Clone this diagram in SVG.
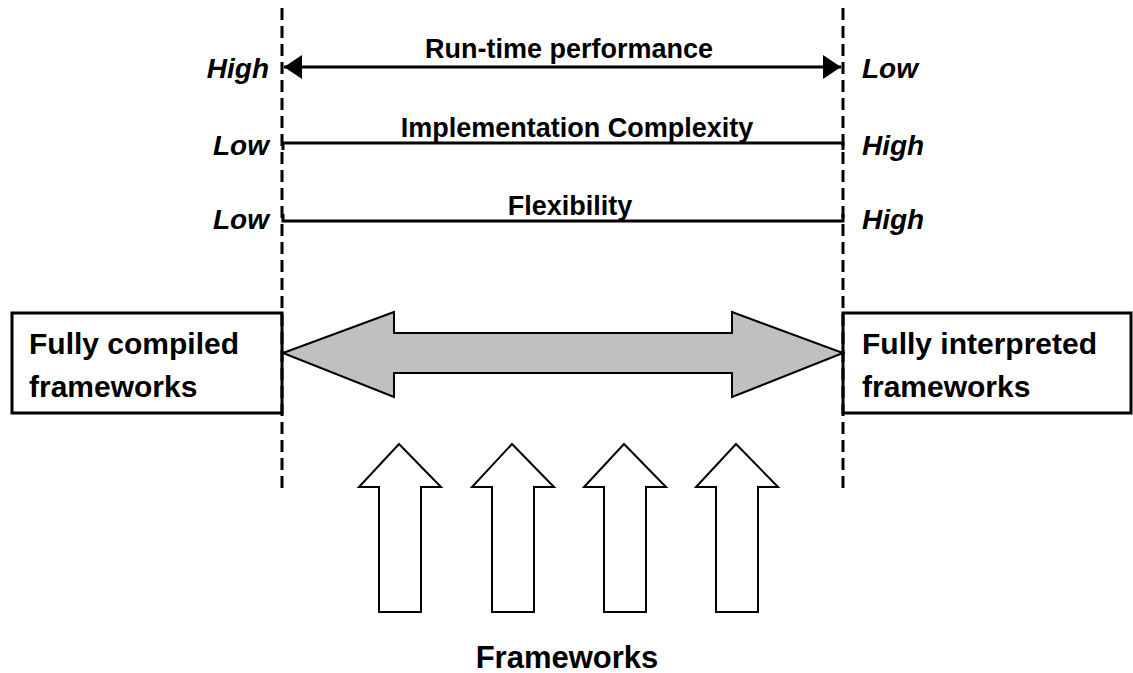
<svg xmlns="http://www.w3.org/2000/svg" width="1133" height="673" viewBox="0 0 1133 673">
  <style>
    .lbl { font-family: "Liberation Sans", Arial, sans-serif; font-weight: bold; fill: #000; }
    .end { font-style: italic; font-size: 28px; }
    .axis { font-size: 27px; }
    .box-t { font-size: 30px; }
    .dash { stroke: #000; stroke-width: 3; stroke-dasharray: 12 6; fill: none; }
    .scale { stroke: #000; stroke-width: 3; fill: none; }
    .box { fill: #fff; stroke: #000; stroke-width: 3; }
    .up { fill: #fff; stroke: #000; stroke-width: 2; stroke-linejoin: miter; }
  </style>
  <defs>
    <marker id="head" viewBox="0 0 18 24" refX="18" refY="12" markerWidth="18" markerHeight="24" markerUnits="userSpaceOnUse" orient="auto-start-reverse">
      <path d="M0,0 L18,12 L0,24 Z" fill="#000"/>
    </marker>
  </defs>
  <rect width="1133" height="673" fill="#fff"/>

  <!-- end boxes -->
  <g id="compiled">
    <rect class="box" x="12" y="313" width="270" height="100"/>
    <text class="lbl box-t" x="29" y="354">Fully compiled</text>
    <text class="lbl box-t" x="29" y="397">frameworks</text>
  </g>
  <g id="interpreted">
    <rect class="box" x="843" y="313" width="288" height="100"/>
    <text class="lbl box-t" x="862" y="354">Fully interpreted</text>
    <text class="lbl box-t" x="862" y="397">frameworks</text>
  </g>

  <!-- spectrum bounds and scales -->
  <g id="connectors">
    <line class="dash" x1="282" y1="8" x2="282" y2="488"/>
    <line class="dash" x1="843" y1="8" x2="843" y2="488"/>
    <line class="scale" x1="284" y1="67" x2="841" y2="67" marker-start="url(#head)" marker-end="url(#head)"/>
    <polyline class="scale" points="283,150 283,143 843,143 843,150"/>
    <polyline class="scale" points="283,214 283,221 843,221 843,214"/>
    <!-- compiled/interpreted spectrum arrow -->
    <path d="M283,353 L394,312 L394,333 L732,333 L732,312 L843,353 L732,397 L732,373 L394,373 L394,397 Z" fill="#c0c0c0" stroke="#000" stroke-width="2" stroke-linejoin="miter"/>
  </g>

  <g id="scale-labels">
    <text class="lbl end" x="269" y="78" text-anchor="end">High</text>
    <text class="lbl end" x="862" y="78">Low</text>
    <text class="lbl axis" x="569" y="58" text-anchor="middle">Run-time performance</text>
    <text class="lbl end" x="269" y="155" text-anchor="end">Low</text>
    <text class="lbl end" x="862" y="155">High</text>
    <text class="lbl axis" x="577" y="137" text-anchor="middle">Implementation Complexity</text>
    <text class="lbl end" x="269" y="229" text-anchor="end">Low</text>
    <text class="lbl end" x="862" y="229">High</text>
    <text class="lbl axis" x="570" y="215" text-anchor="middle">Flexibility</text>
  </g>

  <!-- frameworks pushing into the spectrum -->
  <g id="frameworks">
    <path class="up" d="M399,444 L441,487 L421,487 L421,612 L379,612 L379,487 L359,487 Z"/>
    <path class="up" d="M512,444 L554,487 L534,487 L534,612 L492,612 L492,487 L472,487 Z"/>
    <path class="up" d="M624,444 L666,487 L646,487 L646,612 L604,612 L604,487 L584,487 Z"/>
    <path class="up" d="M736,444 L778,487 L758,487 L758,612 L716,612 L716,487 L696,487 Z"/>
    <text class="lbl" x="567" y="668" text-anchor="middle" font-size="31">Frameworks</text>
  </g>
</svg>
